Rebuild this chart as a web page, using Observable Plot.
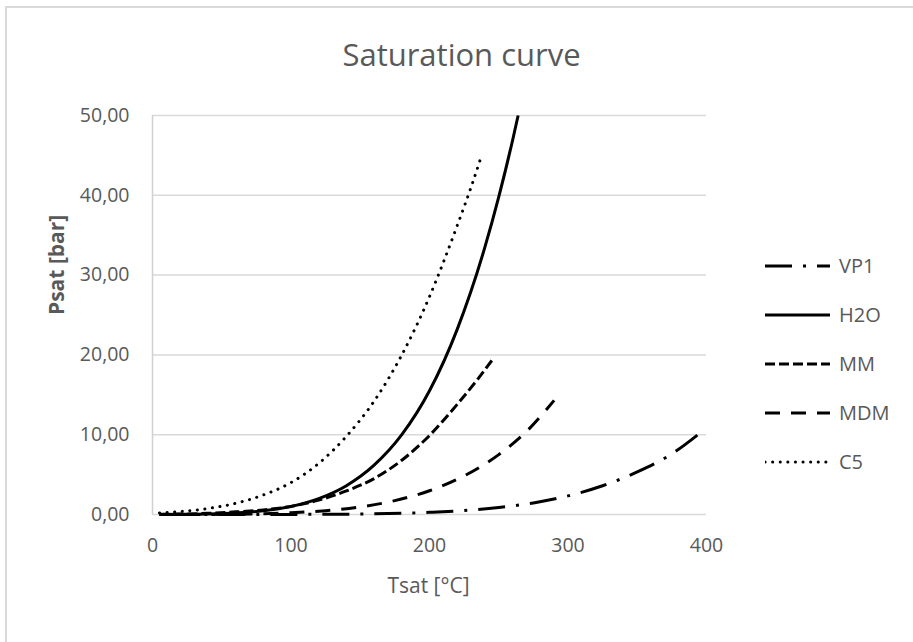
<!DOCTYPE html>
<html>
<head>
<meta charset="utf-8">
<script src="https://cdn.jsdelivr.net/npm/d3@7"></script>
<script src="https://cdn.jsdelivr.net/npm/@observablehq/plot@0.6"></script>
<style>
  body { margin: 0; background: #fff; }
  #wrap { position: relative; width: 913px; height: 642px; overflow: hidden; background: #fff; font-family: "Open Sans", sans-serif; color: #595959; }
  #wrap svg.plotsvg { position: absolute; left: 0; top: 0; }
  #border { position: absolute; left: 5px; top: 6px; width: 960px; height: 700px; border: 2px solid #d9d9d9; box-sizing: border-box; }
  #legend { position: absolute; left: 765px; top: 241px; }
  .item { display: flex; align-items: center; height: 49px; }
  .item span { margin-left: 8px; font-size: 20px; color: #595959; }
</style>
</head>
<body>
<div id="wrap"><div id="border"></div><div id="legend"></div></div>
<script>
// ---- Data ----
const seriesNames = ["VP1", "H2O", "MM", "MDM", "C5"];

const tVP1 = [10, 50, 100, 150, 200, 225, 250, 275, 300, 325, 350, 375, 396];
const pVP1 = [0.0, 0.0, 0.01, 0.06, 0.27, 0.49, 0.87, 1.45, 2.33, 3.6, 5.33, 7.6, 10.3];

const tH2O = [5, 20, 40, 60, 80, 100, 120, 140, 160, 180, 200, 220, 240, 250, 260, 264];
const pH2O = [0.009, 0.023, 0.074, 0.199, 0.474, 1.01, 1.99, 3.61, 6.18, 10.0, 15.5, 23.2, 33.5, 39.8, 46.9, 50.0];

const tMM = [5, 20, 40, 60, 80, 100, 120, 140, 160, 180, 200, 220, 235, 245];
const pMM = [0.03, 0.06, 0.15, 0.33, 0.58, 1.02, 1.8, 2.95, 4.5, 6.8, 9.9, 13.8, 17.0, 19.3];

const tMDM = [5, 50, 100, 125, 150, 175, 200, 225, 250, 270, 290];
const pMDM = [0.0, 0.02, 0.22, 0.48, 0.95, 1.74, 2.98, 4.84, 7.5, 10.4, 14.3];

const tC5 = [5, 20, 40, 60, 80, 100, 120, 140, 160, 180, 200, 210, 220, 230, 238];
const pC5 = [0.2, 0.37, 0.75, 1.4, 2.45, 4.0, 6.4, 9.8, 14.2, 20.0, 27.3, 31.6, 36.2, 41.0, 45.2];

const xTicks = [0, 100, 200, 300, 400];
const yTicks = [0, 10, 20, 30, 40, 50];

const titleText = "Saturation curve";
const xLabel = "Tsat [°C]";
const yLabel = "Psat [bar]";

// ---- Styles ----
const dash = { VP1: "27,11,3,11", H2O: null, MM: "10,4", MDM: "15,11", C5: "0.1,7.5" };
const cap = { VP1: "butt", H2O: "butt", MM: "butt", MDM: "butt", C5: "round" };

const tables = {
  VP1: tVP1.map((t, i) => ({ T: t, P: pVP1[i] })),
  H2O: tH2O.map((t, i) => ({ T: t, P: pH2O[i] })),
  MM: tMM.map((t, i) => ({ T: t, P: pMM[i] })),
  MDM: tMDM.map((t, i) => ({ T: t, P: pMDM[i] })),
  C5: tC5.map((t, i) => ({ T: t, P: pC5[i] }))
};

const fmt = d => d3.format(".2f")(d).replace(".", ",");
const gray = "#595959";

const lineMarks = seriesNames.map(name => Plot.line(tables[name], {
  x: "T", y: "P", curve: "monotone-x",
  stroke: "#000", strokeWidth: 3,
  strokeDasharray: dash[name] || undefined,
  strokeLinecap: cap[name]
}));

const plot = Plot.plot({
  width: 913, height: 642,
  marginLeft: 152, marginRight: 207, marginTop: 115, marginBottom: 128,
  style: { fontFamily: "'Open Sans', sans-serif", color: gray, fontSize: "19.5px", background: "transparent" },
  x: { domain: [0, 400] },
  y: { domain: [0, 50] },
  marks: [
    Plot.ruleY(yTicks, { stroke: "#d9d9d9", strokeWidth: 1.5 }),
    Plot.ruleX([0], { stroke: "#d0d0d0", strokeWidth: 1.5 }),
    Plot.axisX(xTicks, { tickSize: 0, tickPadding: 24, label: null, fontSize: 19.5, fill: gray }),
    Plot.axisY(yTicks, { tickSize: 0, tickPadding: 23, tickFormat: fmt, label: null, fontSize: 19.5, fill: gray }),
    ...lineMarks,
    Plot.text([titleText], { frameAnchor: "top", lineAnchor: "middle", dy: -59, dx: 32, fontSize: 31, fill: gray }),
    Plot.text([xLabel], { frameAnchor: "bottom", lineAnchor: "middle", dy: 72, dx: -1, fontSize: 21, fill: gray }),
    Plot.text([yLabel], { frameAnchor: "left", lineAnchor: "middle", dx: -95, rotate: -90, fontSize: 21, fontWeight: "bold", fill: gray })
  ]
});
plot.classList.add("plotsvg");
const wrap = document.getElementById("wrap");
wrap.insertBefore(plot, wrap.firstChild);

// ---- Legend ----
const legend = d3.select("#legend");
seriesNames.forEach(name => {
  const item = legend.append("div").attr("class", "item");
  const svg = item.append("svg").attr("width", 66).attr("height", 10);
  svg.append("line")
    .attr("x1", 0).attr("x2", 65).attr("y1", 5).attr("y2", 5)
    .attr("stroke", "#000").attr("stroke-width", 3)
    .attr("stroke-dasharray", dash[name] || null)
    .attr("stroke-linecap", cap[name]);
  item.append("span").text(name);
});
</script>
</body>
</html>
